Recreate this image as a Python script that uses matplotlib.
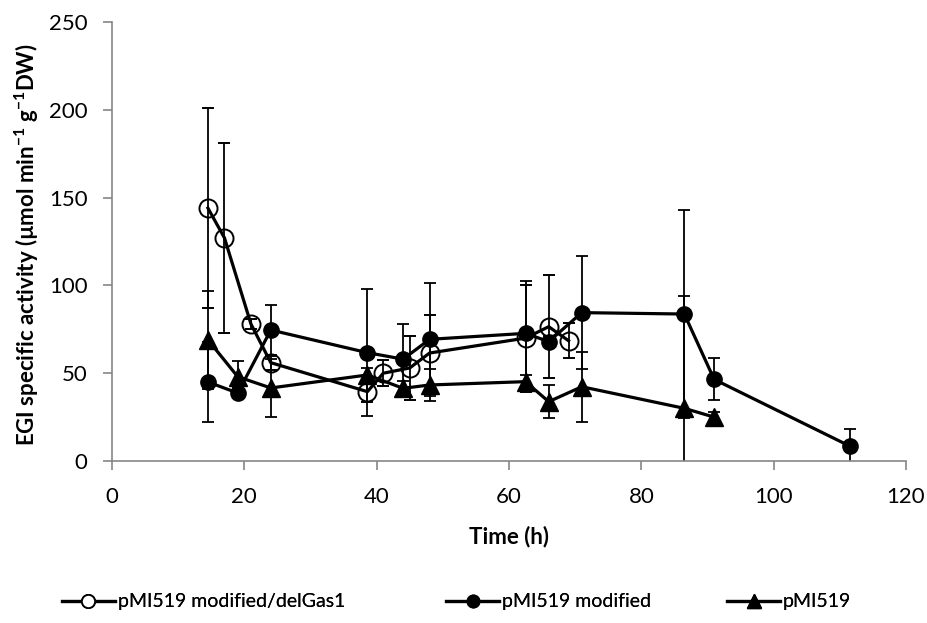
import matplotlib
matplotlib.use("Agg")
import matplotlib.pyplot as plt
from matplotlib.lines import Line2D

plt.rcParams['font.family'] = ['Lato', 'DejaVu Sans']
plt.rcParams['mathtext.fontset'] = 'custom'
plt.rcParams['mathtext.rm'] = 'Lato:bold'
plt.rcParams['mathtext.default'] = 'rm'

# Data
labels = ["pMI519 modified/delGas1", "pMI519 modified", "pMI519"]

circle_x = [14.5, 17, 21, 24, 38.6, 41, 45, 48, 62.5, 66, 69]
circle_y = [144, 127, 78, 56, 39.5, 50, 53, 61.5, 70, 76.5, 68.5]
circle_err = [57, 54, 3, 4, 6, 7.5, 18, 21.5, 30.5, 29.5, 10]

filled_x = [14.5, 19, 24, 38.6, 44, 48, 62.5, 66, 71, 86.5, 91, 111.5]
filled_y = [45, 38.7, 74.6, 61.7, 58, 69.3, 72.7, 68, 84.5, 83.7, 46.5, 8.5]
filled_err = [23, 3, 14, 36, 20, 32, 30, 3, 32, 59, 12, 10]

tri_x = [14.5, 19, 24, 38.6, 44, 48, 62.5, 66, 71, 86.5, 91]
tri_y = [69, 48, 41.6, 49, 41.4, 43.3, 45.2, 33.8, 42.3, 30, 25]
tri_err = [28, 9, 16.5, 4, 4, 9, 4, 9.5, 20, 64, 3]

fig = plt.figure(figsize=(9.28, 6.23), dpi=100)
ax = fig.add_axes([0.1207, 0.26, 0.8556, 0.7047])

ekw = dict(ecolor='black', elinewidth=1.3, capsize=4.5, capthick=1.3)
ax.errorbar(circle_x, circle_y, yerr=circle_err, color='black', lw=2.3,
            marker='o', ms=13, mfc='none', mec='black', mew=1.4, **ekw)
ax.errorbar(filled_x, filled_y, yerr=filled_err, color='black', lw=2.3,
            marker='o', ms=11, mfc='black', mec='black', **ekw)
ax.errorbar(tri_x, tri_y, yerr=tri_err, color='black', lw=2.3,
            marker='^', ms=13, mfc='black', mec='black', **ekw)

ax.set_xlim(0, 120)
ax.set_ylim(0, 250)
ax.set_xticks(range(0, 121, 20))
ax.set_yticks(range(0, 251, 50))
for s in ['top', 'right']:
    ax.spines[s].set_visible(False)
for s in ['left', 'bottom']:
    ax.spines[s].set_color('#868686')
    ax.spines[s].set_linewidth(1.2)
ax.tick_params(direction='out', length=6.5, width=1.2, color='#868686',
               labelsize=16, labelcolor='black')
ax.tick_params(axis='x', pad=12)
ax.tick_params(axis='y', pad=11)

ax.set_xlabel('Time (h)', fontsize=16, fontweight='bold')
ax.xaxis.set_label_coords(0.5, -0.171)
ax.xaxis.label.set_va('center')
ax.set_ylabel(r'EGI specific activity (µmol min$^{-1}$ g$^{-1}$DW)',
              fontsize=16, fontweight='bold')
ax.yaxis.set_label_coords(-0.107, 0.493)
ax.yaxis.label.set_va('center')

handles = [Line2D([], [], color='black', lw=2.3, marker='o', ms=9.5, mfc='white', mec='black', mew=1.3),
           Line2D([], [], color='black', lw=2.3, marker='o', ms=9, mfc='black', mec='black'),
           Line2D([], [], color='black', lw=2.3, marker='^', ms=10, mfc='black', mec='black')]
leg_x = [0.0665, 0.4806, 0.7834]
for h, lab, x in zip(handles, labels, leg_x):
    leg = fig.legend([h], [lab], loc='center left', bbox_to_anchor=(x, 0.034),
                     frameon=False, fontsize=14, handlelength=2.75,
                     handletextpad=0.12, borderpad=0, borderaxespad=0)
    fig.add_artist(leg)

fig.savefig('out.png', dpi=100)
